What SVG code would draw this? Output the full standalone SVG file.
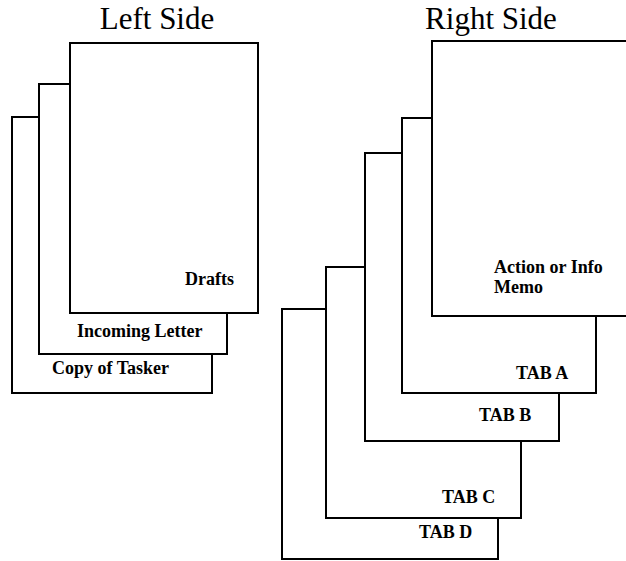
<svg xmlns="http://www.w3.org/2000/svg" width="626" height="561" viewBox="0 0 626 561">
<style>
.pg{fill:#fff;stroke:#000;stroke-width:2}
.t{font-family:"Liberation Serif","Times New Roman",serif;font-size:31px;fill:#000}
.l{font-family:"Liberation Serif","Times New Roman",serif;font-size:18px;font-weight:bold;fill:#000}
</style>
<rect width="626" height="561" fill="#fff"/>
<text class="t" x="157" y="29" text-anchor="middle">Left Side</text>
<text class="t" x="491" y="29" text-anchor="middle">Right Side</text>
<g id="copy-of-tasker">
<rect class="pg" x="12" y="117" width="200" height="276"/>
<text class="l" x="52" y="374">Copy of Tasker</text>
</g>
<g id="incoming-letter">
<rect class="pg" x="39" y="84" width="188" height="270"/>
<text class="l" x="77" y="337">Incoming Letter</text>
</g>
<g id="drafts">
<rect class="pg" x="70" y="43" width="188" height="270"/>
<text class="l" x="185" y="285">Drafts</text>
</g>
<g id="tab-d">
<rect class="pg" x="282" y="309" width="216" height="250"/>
<text class="l" x="419" y="538">TAB D</text>
</g>
<g id="tab-c">
<rect class="pg" x="326" y="267" width="195" height="251"/>
<text class="l" x="442" y="503">TAB C</text>
</g>
<g id="tab-b">
<rect class="pg" x="365" y="153" width="194" height="288"/>
<text class="l" x="479" y="421">TAB B</text>
</g>
<g id="tab-a">
<rect class="pg" x="402" y="118" width="194" height="275"/>
<text class="l" x="516" y="379">TAB A</text>
</g>
<g id="action-memo">
<rect class="pg" x="432" y="41" width="200" height="275"/>
<text class="l" x="494" y="273">Action or Info</text>
<text class="l" x="494" y="293">Memo</text>
</g>
<g id="connectors"></g>
</svg>
